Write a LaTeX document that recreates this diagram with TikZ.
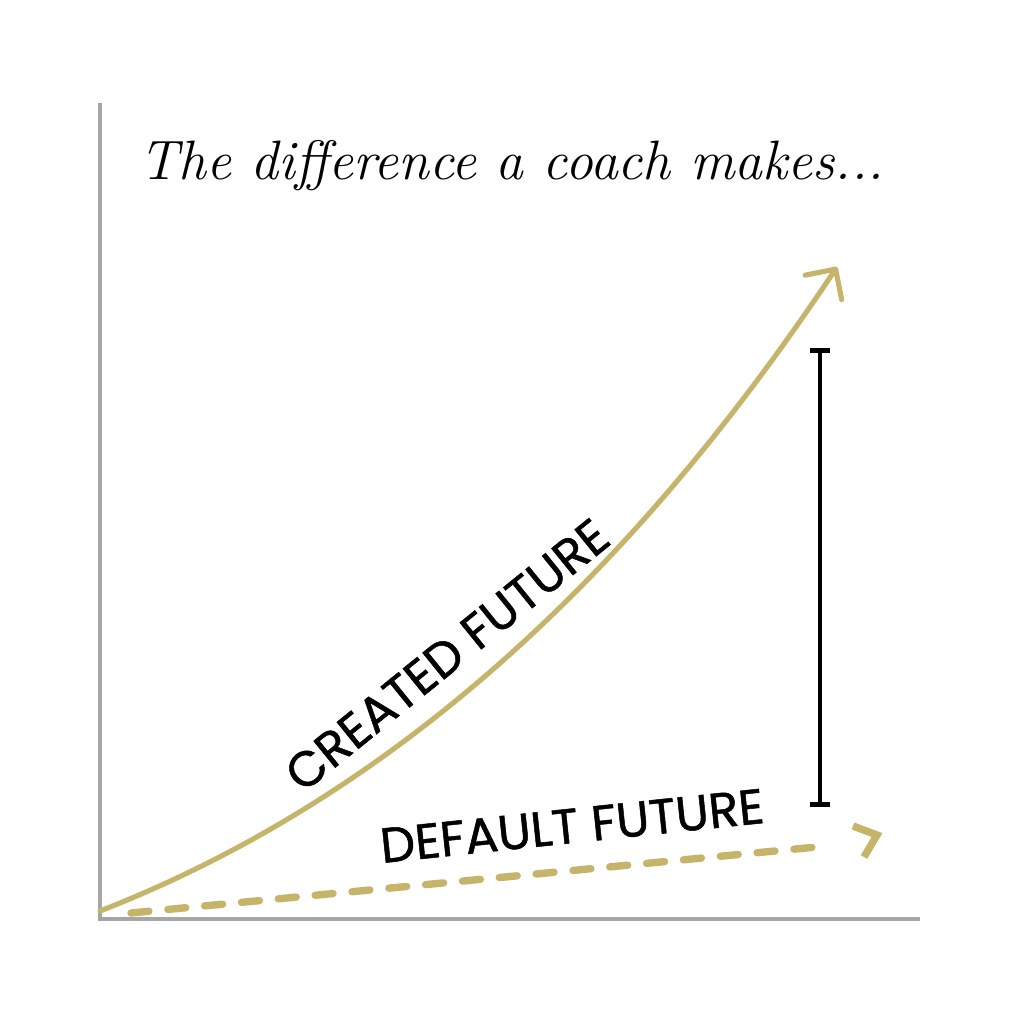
\documentclass[tikz,border=0pt]{standalone}
\usepackage{fontspec}
\newfontfamily\labelfont[FakeBold=1]{Poppins}
\usetikzlibrary{arrows.meta}
\definecolor{gold}{HTML}{C6B46A}
\definecolor{axisgray}{HTML}{A6A6A6}
\begin{document}
\begin{tikzpicture}
\tikzstyle{axis}=[draw=axisgray, line width=1.4pt]
\tikzstyle{future}=[draw=gold, line width=1.45pt, line cap=round]
\tikzstyle{default line}=[draw=gold, line width=2.1pt, line cap=round, dash pattern=on 0.18cm off 0.19cm]
\tikzstyle{label}=[font=\labelfont\fontsize{14}{16}\selectfont, inner sep=0pt]
\fill[white] (0,0) rectangle (10.24,10.24);
\useasboundingbox (0,0) rectangle (10.24,10.24);
\coordinate (origin) at (1.00,1.05);
\coordinate (ytop) at (1.00,9.21);
\coordinate (xend) at (9.20,1.05);
\coordinate (cstart) at (1.00,1.13);
\coordinate (cend) at (8.37,7.57);
\coordinate (dstart) at (1.31,1.11);
\coordinate (dend) at (8.27,1.78);
\coordinate (dtip) at (8.77,1.89);
\coordinate (bartop) at (8.20,6.76);
\coordinate (barbot) at (8.20,2.17);
\node (title) [anchor=base, inner sep=0pt] at (5.12,8.44)
  {\fontsize{15.8}{19}\selectfont\itshape The difference a coach makes...};
\draw[axis] (ytop) -- (origin) -- (xend);
\draw[future, -{Straight Barb[length=2.2mm,width=4.4mm,round]}]
  (cstart) .. controls (4.00,2.30) and (6.37,4.57) .. (cend);
\draw[default line] (dstart) -- (dend);
\draw[draw=gold, line width=2.1pt] (8.53,1.98) -- (dtip) -- (8.64,1.67);
\draw[line width=1.4pt, {Bar[width=2mm]}-{Bar[width=2mm]}] (bartop) -- (barbot);
\node (created) [label, rotate=39] at (4.47,3.69) {CREATED FUTURE};
\node (default) [label, rotate=6] at (5.72,1.98) {DEFAULT FUTURE};
\end{tikzpicture}
\end{document}
